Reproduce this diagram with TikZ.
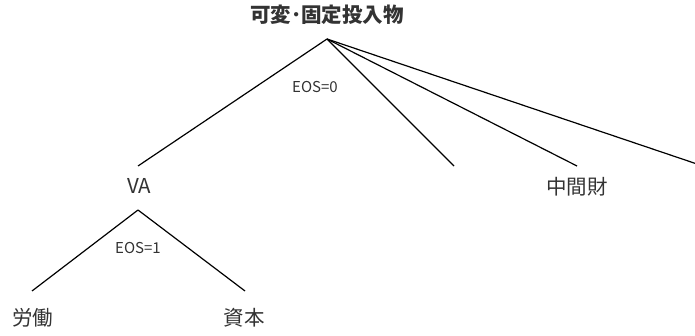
\documentclass[tikz,border=0pt]{standalone}
\usepackage{fontspec}
\setmainfont{Noto Sans CJK JP}
\definecolor{txt}{HTML}{333333}
\begin{document}
\begin{tikzpicture}[x=1pt,y=-1pt,
  lab/.style={text=txt,font=\fontsize{20.5}{22}\selectfont,inner sep=0pt},
  ttl/.style={text=txt,font=\fontsize{20.5}{22}\selectfont\bfseries,inner sep=0pt},
  eos/.style={text=txt,font=\fontsize{15}{17}\selectfont,inner sep=0pt},
  edge/.style={draw=black,line width=1.2pt}]
\useasboundingbox (0,0) rectangle (695,336);
\node[ttl] (top) at (327,15) {可変･固定投入物};
\coordinate (apex) at (327,39);
\coordinate (vaT) at (138,166);
\coordinate (midE) at (454,166);
\coordinate (intT) at (577,166);
\coordinate (farE) at (697,164);
\node[lab] (va) at (139,186) {VA};
\node[lab] (int) at (577,187) {中間財};
\coordinate (vaB) at (138,210);
\coordinate (labT) at (32,291);
\coordinate (capT) at (245,291);
\node[lab] (lab) at (33,318) {労働};
\node[lab] (cap) at (244,318) {資本};
\node[eos] (e0) at (315,87.5) {EOS=0};
\node[eos] (e1) at (138,248) {EOS=1};
\draw[edge] (apex) -- (vaT);
\draw[edge] (apex) -- (midE);
\draw[edge] (apex) -- (intT);
\draw[edge] (apex) -- (farE);
\draw[edge] (vaB) -- (labT);
\draw[edge] (vaB) -- (capT);
\end{tikzpicture}
\end{document}
